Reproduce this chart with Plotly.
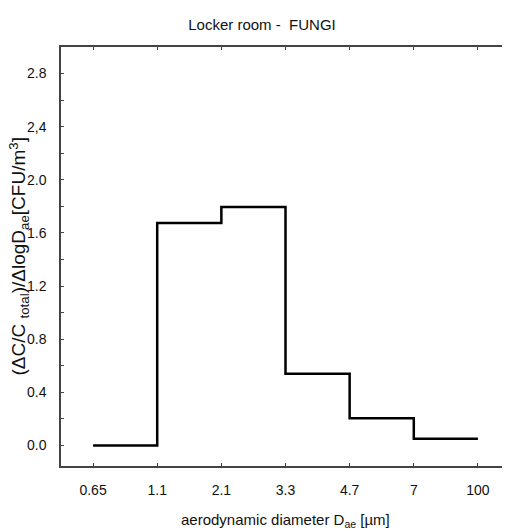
import plotly.graph_objects as go

# aerodynamic diameter bin edges (stage cut-offs), in µm
size_edges = ["0.65", "1.1", "2.1", "3.3", "4.7", "7", "100"]
# (dC/C total)/dlogDae for each stage, fungi in the locker room
fungi_values = [0.0, 1.675, 1.795, 0.54, 0.205, 0.05]

y_tickvals = [0.0, 0.4, 0.8, 1.2, 1.6, 2.0, 2.4, 2.8]
y_ticktext = ["0.0", "0.4", "0.8", "1.2", "1.6", "2.0", "2,4", "2.8"]
y_minor = [0.2, 0.6, 1.0, 1.4, 1.8, 2.2, 2.6]

sans = "Liberation Sans, Arial"

# page body has an 8px default margin, so the figure is drawn 8px smaller
W, H = 502, 524

fig = go.Figure()
fig.add_trace(go.Scatter(
    x=size_edges,
    y=fungi_values + [fungi_values[-1]],
    mode="lines",
    line=dict(color="black", width=2.5, shape="hv"),
    showlegend=False,
    hoverinfo="skip",
))

fig.update_layout(
    width=W, height=H,
    margin=dict(l=53, r=0, t=39, b=66),
    paper_bgcolor="white", plot_bgcolor="white",
    font=dict(family=sans, size=14, color="#111"),
    title=dict(
        text="Locker room -  FUNGI",
        x=254 / W, xanchor="center",
        y=1 - 17 / H, yanchor="middle",
        font=dict(family=sans, size=15, color="#111"),
    ),
)

fig.update_xaxes(
    type="category",
    range=[-0.5, 6.5],
    automargin=False,
    showline=True, linecolor="#444", linewidth=1.5, mirror="ticks",
    ticks="inside", ticklen=3, tickcolor="#444",
    ticklabelstandoff=10,
    showgrid=False, zeroline=False,
)

fig.update_yaxes(
    range=[-0.155, 3.0],
    automargin=False,
    tickmode="array", tickvals=y_tickvals, ticktext=y_ticktext,
    showline=True, linecolor="#444", linewidth=1.5, mirror="ticks",
    ticks="inside", ticklen=3, tickcolor="#444",
    minor=dict(tickmode="array", tickvals=y_minor, ticks="inside",
               ticklen=3, tickcolor="#444"),
    ticklabelstandoff=10,
    showgrid=False, zeroline=False,
)

# axis titles placed as annotations so they sit where the reference has them
fig.add_annotation(
    text="aerodynamic diameter D<sub>ae</sub> [µm]",
    xref="paper", yref="paper", x=0.501, y=-0.131,
    xanchor="center", yanchor="middle", showarrow=False,
    font=dict(family=sans, size=15, color="#111"),
)
fig.add_annotation(
    text="(ΔC/C <sub>total</sub>)/ΔlogD<sub>ae</sub>[CFU/m<sup>3</sup>]",
    xref="paper", yref="paper", x=-42 / 449, y=0.5, textangle=-90,
    xanchor="center", yanchor="middle", showarrow=False,
    font=dict(family=sans, size=19, color="#111"),
)

fig.write_html("out.html")
